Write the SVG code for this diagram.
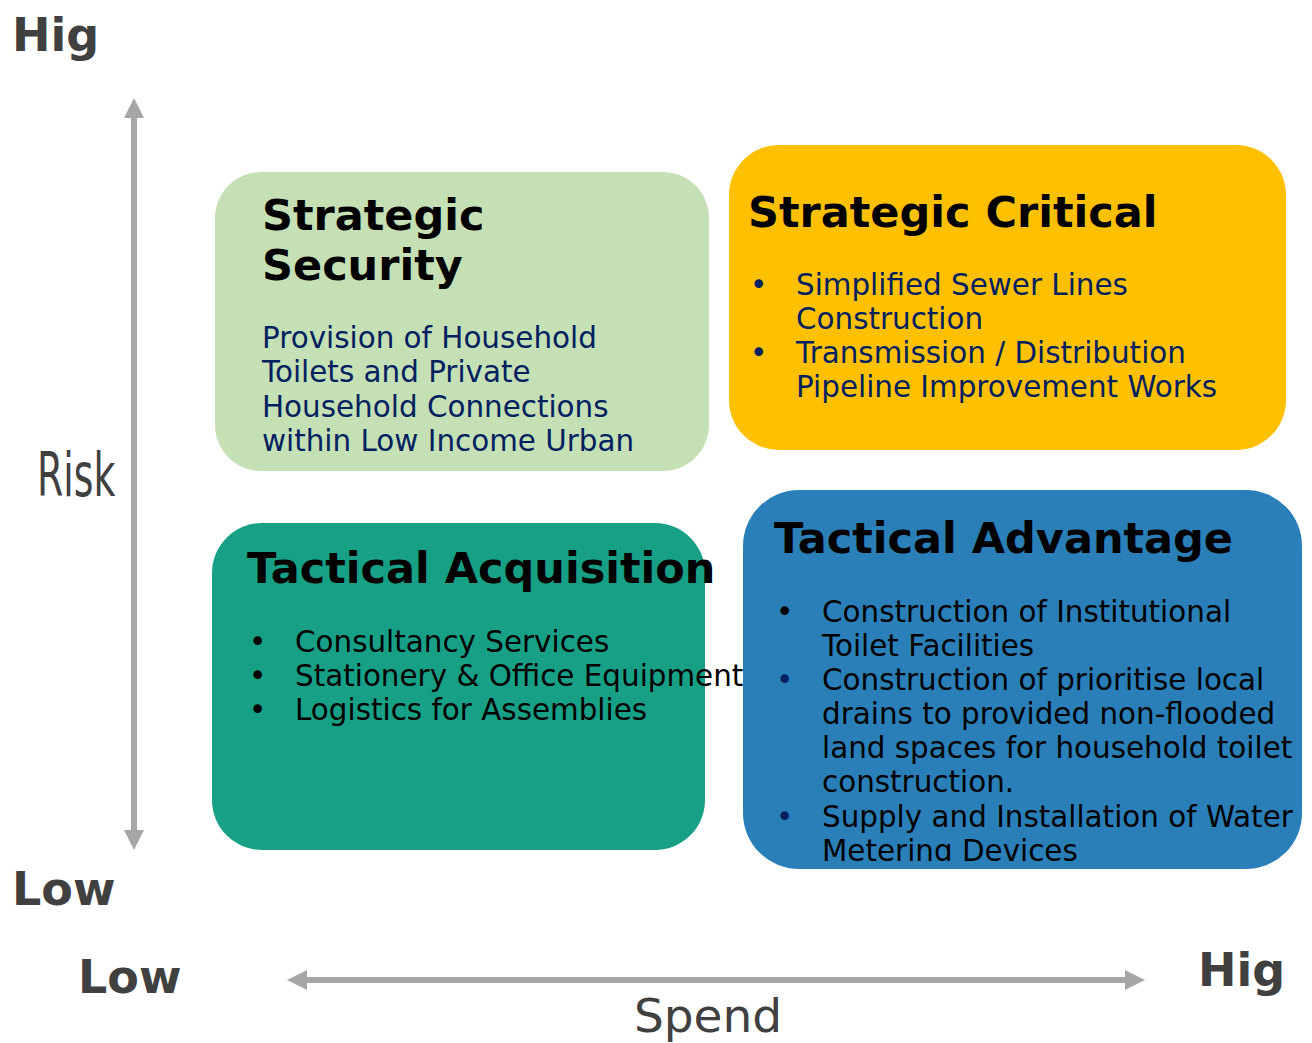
<svg xmlns="http://www.w3.org/2000/svg" width="1312" height="1043" viewBox="0 0 1312 1043">
<style>
.t{font-family:"DejaVu Sans",sans-serif;font-weight:bold;font-size:43px;fill:#000}
.b{font-family:"DejaVu Sans",sans-serif;font-size:29.4px}
.nv{fill:#002060}
.bk{fill:#000}
.ax{font-family:"DejaVu Sans",sans-serif;font-weight:bold;font-size:46px;fill:#404040}
.lab{font-family:"DejaVu Sans",sans-serif;font-size:47px;fill:#404040}
.arr{stroke:#A6A6A6;stroke-width:6;fill:none}
.head{fill:#A6A6A6}
</style>
<defs>
<clipPath id="clipTA"><rect x="743" y="490" width="560" height="371"/></clipPath>
</defs>
<rect width="1312" height="1043" fill="#fff"/>

<g id="axis-labels">
<text class="ax" x="12" y="51">Hig</text>
<text class="ax" x="12" y="905">Low</text>
<text class="ax" x="78" y="993">Low</text>
<text class="ax" x="1198" y="986">Hig</text>
<text class="lab" x="708" y="1032" text-anchor="middle">Spend</text>
<text class="lab" transform="translate(37 496) scale(0.63 1)" style="font-size:60px">Risk</text>
</g>

<g id="connectors">
<line class="arr" x1="134" y1="116" x2="134" y2="832"/>
<polygon class="head" points="134,98 124,118 144,118"/>
<polygon class="head" points="134,850 124,830 144,830"/>
<line class="arr" x1="305" y1="980" x2="1127" y2="980"/>
<polygon class="head" points="287,980 307,970 307,990"/>
<polygon class="head" points="1145,980 1125,970 1125,990"/>
</g>

<g id="strategic-security">
<rect x="215" y="172" width="494" height="299" rx="46" fill="#C5E0B4"/>
<text class="t" x="262" y="230">Strategic</text>
<text class="t" x="262" y="280">Security</text>
<text class="b nv" x="262" y="348">Provision of Household</text>
<text class="b nv" x="262" y="382">Toilets and Private</text>
<text class="b nv" x="262" y="417">Household Connections</text>
<text class="b nv" x="262" y="451">within Low Income Urban</text>
</g>

<g id="strategic-critical">
<rect x="729" y="145" width="557" height="305" rx="50" fill="#FFC000"/>
<text class="t" x="748" y="227">Strategic Critical</text>
<text class="b nv" x="750" y="295">•</text>
<text class="b nv" x="796" y="295">Simplified Sewer Lines</text>
<text class="b nv" x="796" y="329">Construction</text>
<text class="b nv" x="750" y="363">•</text>
<text class="b nv" x="796" y="363">Transmission / Distribution</text>
<text class="b nv" x="796" y="397">Pipeline Improvement Works</text>
</g>

<g id="tactical-advantage">
<rect x="743" y="490" width="559" height="379" rx="56" fill="#2A7FB8"/>
<text class="t" x="774" y="553">Tactical Advantage</text>
<g clip-path="url(#clipTA)">
<text class="b bk" x="776" y="622">•</text>
<text class="b bk" x="822" y="622">Construction of Institutional</text>
<text class="b bk" x="822" y="656">Toilet Facilities</text>
<text class="b nv" x="776" y="690">•</text>
<text class="b bk" x="822" y="690">Construction of prioritise local</text>
<text class="b bk" x="822" y="724">drains to provided non-flooded</text>
<text class="b bk" x="822" y="758">land spaces for household toilet</text>
<text class="b bk" x="822" y="792">construction.</text>
<text class="b nv" x="776" y="827">•</text>
<text class="b bk" x="822" y="827">Supply and Installation of Water</text>
<text class="b bk" x="822" y="861">Metering Devices</text>
</g>
</g>

<g id="tactical-acquisition">
<rect x="212" y="523" width="493" height="327" rx="50" fill="#17A086"/>
<text class="t" x="247" y="583">Tactical Acquisition</text>
<text class="b bk" x="249" y="652">•</text>
<text class="b bk" x="295" y="652">Consultancy Services</text>
<text class="b bk" x="249" y="686">•</text>
<text class="b bk" x="295" y="686">Stationery &amp; Office Equipment</text>
<text class="b bk" x="249" y="720">•</text>
<text class="b bk" x="295" y="720">Logistics for Assemblies</text>
</g>
</svg>
